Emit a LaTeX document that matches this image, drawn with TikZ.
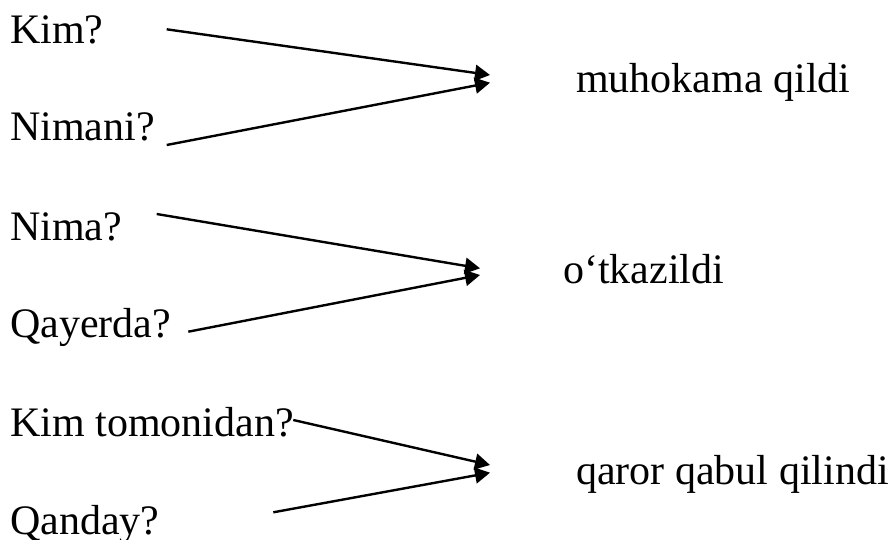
\documentclass[tikz,border=0pt]{standalone}
\usepackage{fontspec}
\setmainfont{Liberation Serif}
\usetikzlibrary{arrows.meta}
\begin{document}
\begin{tikzpicture}[x=1pt,y=-1pt,
  lbl/.style={anchor=base west,inner sep=0pt,font=\fontsize{42}{50}\selectfont},
  conn/.style={line width=2.4pt,-{Triangle[length=15pt,width=16pt]}}]
\useasboundingbox (0,0) rectangle (896,540);
% left questions
\node[lbl] (kim) at (10,43.3) {Kim?};
\node[lbl] (nimani) at (10,141) {Nimani?};
\node[lbl] (nima) at (10,240) {Nima?};
\node[lbl] (qayerda) at (10,337.7) {Qayerda?};
\node[lbl] (kimtom) at (10,436.7) {Kim tomonidan?};
\node[lbl] (qanday) at (10,534) {Qanday?};
% right answers
\node[lbl] (muh) at (576,92.3) {muhokama qildi};
\node[lbl] (otk) at (563,283) {o‘tkazildi};
\node[lbl] (qaror) at (576,484) {qaror qabul qilindi};
% connector ends
\coordinate (s1) at (166.7,29.3);
\coordinate (t1) at (490,75);
\coordinate (s2) at (166.7,145);
\coordinate (t2) at (490,82.7);
\coordinate (s3) at (156.7,214);
\coordinate (t3) at (480,268.3);
\coordinate (s4) at (188.3,331.7);
\coordinate (t4) at (480,275);
\coordinate (s5) at (293.3,420);
\coordinate (t5) at (490,465);
\coordinate (s6) at (273.3,512.3);
\coordinate (t6) at (490,472.7);
\draw[conn] (s1) -- (t1);
\draw[conn] (s2) -- (t2);
\draw[conn] (s3) -- (t3);
\draw[conn] (s4) -- (t4);
\draw[conn] (s5) -- (t5);
\draw[conn] (s6) -- (t6);
\end{tikzpicture}
\end{document}
